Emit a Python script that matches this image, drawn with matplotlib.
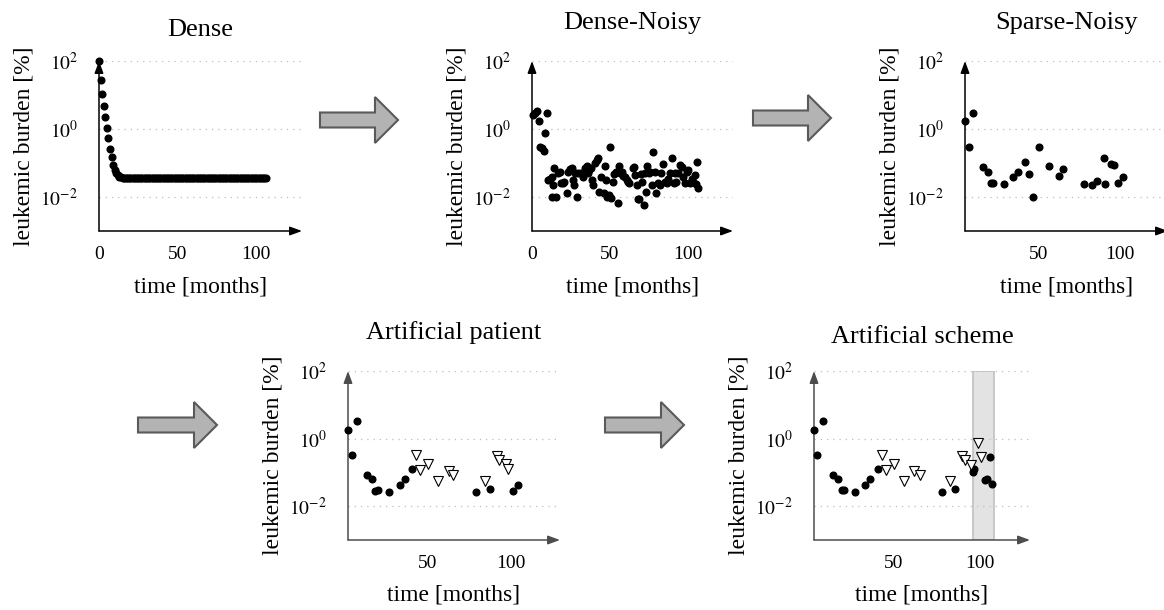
import matplotlib
matplotlib.use('Agg')
import matplotlib.pyplot as plt
from matplotlib.patches import Polygon
from matplotlib.ticker import NullLocator

plt.rcParams['font.family'] = 'Liberation Serif'
plt.rcParams['mathtext.fontset'] = 'stix'

W, H = 1164, 610

# ── data ────────────────────────────────────────────────
dense_t = list(range(107))
dense_v = [100, 27.6, 10.7, 4.9, 2.3, 1.05, 0.53, 0.26, 0.15, 0.087,
           0.062, 0.050, 0.043, 0.040, 0.038, 0.037,
           0.036, 0.036, 0.036, 0.036, 0.036, 0.036, 0.036, 0.036, 0.036, 0.036,
           0.036, 0.036, 0.036, 0.036, 0.036, 0.036, 0.036, 0.036, 0.036, 0.036,
           0.036, 0.036, 0.036, 0.036, 0.036, 0.036, 0.036, 0.036, 0.036, 0.036,
           0.036, 0.036, 0.036, 0.036, 0.036, 0.036, 0.036, 0.036, 0.036, 0.036,
           0.036, 0.036, 0.036, 0.036, 0.036, 0.036, 0.036, 0.036, 0.036, 0.036,
           0.036, 0.036, 0.036, 0.036, 0.036, 0.036, 0.036, 0.036, 0.036, 0.036,
           0.036, 0.036, 0.036, 0.036, 0.036, 0.036, 0.036, 0.036, 0.036, 0.036,
           0.036, 0.036, 0.036, 0.036, 0.036, 0.036, 0.036, 0.036, 0.036, 0.036,
           0.036, 0.036, 0.036, 0.036, 0.036, 0.036, 0.036, 0.036, 0.036, 0.036,
           0.036]

noisy_t = [0.5, 2.2, 3.4, 4.5, 5.2, 6.4, 7.5, 8.1, 9.4,
           10.1, 11.6, 12.6, 13.1, 13.7, 14.3, 15.2, 16.9, 18.0, 18.4,
           19.7, 20.8, 22.2, 23.3, 24.4, 25.7, 26.1, 27.0, 27.6, 28.7,
           29.7, 31.2, 32.9, 34.0, 35.1, 36.1, 36.8, 37.8, 38.3, 39.3,
           40.4, 41.5, 42.5, 43.2, 44.0, 46.4, 46.8, 47.5, 48.3, 49.6,
           50.0, 50.7, 51.7, 52.6, 53.7, 54.9, 55.8, 56.4, 57.5, 58.6,
           59.6, 60.7, 61.4, 62.4, 64.6, 65.4, 66.1, 67.1, 68.0, 68.8,
           69.7, 70.8, 71.8, 72.5, 73.1, 74.0, 74.8, 75.7, 76.7, 77.8,
           78.9, 79.5, 81.0, 82.1, 83.1, 84.2, 85.3, 86.4, 87.4, 88.5,
           89.6, 91.0, 91.7, 92.3, 93.8, 94.9, 96.0, 97.0, 98.1, 99.2,
           100.2, 101.3, 102.4, 103.4, 104.5, 105.2, 105.6, 106.7]
noisy_v = [2.6, 2.9, 3.4, 1.7, 0.30, 0.27, 0.23, 0.78, 2.9,
           0.032, 0.035, 0.0102, 0.040, 0.023, 0.070, 0.0102, 0.052, 0.056, 0.026,
           0.026, 0.028, 0.013, 0.056, 0.065, 0.070, 0.032, 0.023, 0.050, 0.0102,
           0.050, 0.050, 0.040, 0.070, 0.083, 0.050, 0.062, 0.070, 0.032, 0.023,
           0.098, 0.122, 0.137, 0.014, 0.040, 0.013, 0.082, 0.032, 0.0102, 0.0115,
           0.29, 0.0091, 0.028, 0.047, 0.054, 0.0065, 0.083, 0.050, 0.056, 0.041,
           0.038, 0.032, 0.028, 0.025, 0.070, 0.078, 0.044, 0.023, 0.0087, 0.0085,
           0.046, 0.028, 0.0059, 0.050, 0.014, 0.083, 0.050, 0.053, 0.023, 0.215,
           0.056, 0.013, 0.026, 0.023, 0.050, 0.094, 0.028, 0.026, 0.035, 0.050,
           0.137, 0.025, 0.050, 0.028, 0.050, 0.087, 0.078, 0.040, 0.025, 0.056,
           0.062, 0.025, 0.035, 0.028, 0.044, 0.024, 0.109, 0.018]

sparse_t = [5.5, 7.7, 10.6, 16.3, 19.3, 21.1, 22.8, 29.3, 35.0, 38.0, 42.1, 44.7, 46.7,
            50.6, 56.7, 62.4, 65.0, 78.0, 82.7, 85.8, 89.8, 90.9, 94.3, 95.9, 98.6, 101.6]
sparse_v = [1.72, 0.30, 2.89, 0.075, 0.056, 0.026, 0.026, 0.024, 0.038, 0.056, 0.109, 0.047, 0.0098,
            0.29, 0.083, 0.042, 0.065, 0.024, 0.022, 0.030, 0.137, 0.024, 0.094, 0.087, 0.025, 0.038]

patient_t = [3.0, 5.2, 8.2, 14.1, 17.5, 19.0, 20.6, 27.6, 33.9, 37.1, 41.1, 79.2, 87.5, 100.8, 104.0]
patient_v = [1.84, 0.32, 3.38, 0.082, 0.062, 0.028, 0.030, 0.026, 0.041, 0.062, 0.122, 0.026, 0.033, 0.028, 0.042]
patient_tri_t = [43.5, 46.0, 50.6, 56.5, 62.9, 65.7, 84.5, 91.5, 92.7, 96.8, 98.0]
patient_tri_v = [0.32, 0.12, 0.18, 0.054, 0.11, 0.082, 0.056, 0.30, 0.226, 0.18, 0.13]

scheme_t = [3.5, 5.4, 8.5, 14.3, 17.6, 19.6, 20.9, 27.3, 33.5, 36.4, 40.9, 78.1, 86.0,
            96.1, 96.7, 103.3, 104.3, 106.2, 107.2]
scheme_v = [1.84, 0.32, 3.38, 0.082, 0.062, 0.030, 0.030, 0.026, 0.042, 0.062, 0.122, 0.026, 0.033,
            0.102, 0.122, 0.059, 0.065, 0.28, 0.044]
scheme_tri_t = [43.4, 45.7, 50.0, 55.8, 61.8, 65.1, 83.1, 89.9, 91.3, 95.2, 99.0, 101.0]
scheme_tri_v = [0.32, 0.12, 0.18, 0.054, 0.11, 0.082, 0.056, 0.30, 0.226, 0.17, 0.74, 0.28]
scheme_window = (96.1, 108.3)

YTICKS = [1e-2, 1e0, 1e2]
YTICKLABELS = [r'$10^{-2}$', r'$10^{0}$', r'$10^{2}$']


def px_axes(fig, left, top, right, bottom):
    return fig.add_axes([left / W, 1 - bottom / H, (right - left) / W, (bottom - top) / H])


def style(ax, title, title_pad, xlim, xticks, w_px, h_px, color):
    ax.set_yscale('log')
    ax.set_ylim(1e-3, 1e2)
    ax.set_xlim(*xlim)
    ax.set_yticks(YTICKS)
    ax.set_yticklabels(YTICKLABELS)
    ax.yaxis.set_minor_locator(NullLocator())
    ax.set_xticks(xticks)
    ax.set_xticklabels([str(t) for t in xticks])
    ax.tick_params(axis='y', length=0, pad=15, labelsize=14)
    ax.tick_params(axis='x', length=0, pad=11, labelsize=14)
    for s in ax.spines.values():
        s.set_visible(False)
    ax.patch.set_visible(False)
    ax.set_axisbelow(True)
    ax.grid(axis='y', color='#bdbdbd', linestyle=(0, (1, 4)), linewidth=0.9)
    ap = dict(arrowstyle='-|>,head_length=0.6,head_width=0.22', color=color, lw=1.1,
              shrinkA=0, shrinkB=0, mutation_scale=12)
    ax.annotate('', xy=(1, 0), xytext=(0, 0), xycoords='axes fraction', arrowprops=ap)
    ax.annotate('', xy=(0, 1), xytext=(0, 0), xycoords='axes fraction', arrowprops=ap)
    ax.set_title(title, fontsize=19, pad=title_pad, y=1.0)
    ax.set_xlabel('time [months]', fontsize=17)
    ax.set_ylabel('leukemic burden [%]', fontsize=17)
    ax.xaxis.set_label_coords(0.5, -45 / h_px)
    ax.yaxis.set_label_coords(-65 / w_px, 0.5)


def dots(ax, t, v):
    ax.plot(t, v, 'o', color='black', ms=4.8, clip_on=False, zorder=4)


def triangles(ax, t, v):
    ax.plot(t, v, 'v', mfc='white', mec='black', mew=0.8, ms=6.5, clip_on=False, zorder=5)


def block_arrow(ov, x0, xh, xt, yc, bh=7.5, hh=23):
    pts = [(x0, yc - bh), (xh, yc - bh), (xh, yc - hh), (xt, yc),
           (xh, yc + hh), (xh, yc + bh), (x0, yc + bh)]
    ov.add_patch(Polygon(pts, closed=True, facecolor='#b3b3b3', edgecolor='#5a5a5a', lw=1.5))


fig = plt.figure(figsize=(W / 100, H / 100), dpi=100)

# top row
ax1 = px_axes(fig, 99, 61, 302, 231)
style(ax1, 'Dense', 18, (0, 129), [0, 50, 100], 203, 170, 'black')
dots(ax1, dense_t, dense_v)

ax2 = px_axes(fig, 532, 61, 733, 231)
style(ax2, 'Dense-Noisy', 23, (0, 129), [0, 50, 100], 201, 170, 'black')
dots(ax2, noisy_t, noisy_v)

ax3 = px_axes(fig, 965, 61, 1168, 231)
style(ax3, 'Sparse-Noisy', 23, (5.5, 129), [50, 100], 203, 170, 'black')
dots(ax3, sparse_t, sparse_v)

# bottom row
ax4 = px_axes(fig, 348, 371, 560, 540)
style(ax4, 'Artificial patient', 23, (3.0, 129), [50, 100], 212, 169, '#4d4d4d')
dots(ax4, patient_t, patient_v)
triangles(ax4, patient_tri_t, patient_tri_v)

ax5 = px_axes(fig, 814, 371, 1030, 540)
style(ax5, 'Artificial scheme', 20, (3.5, 129.5), [50, 100], 216, 169, '#4d4d4d')
ax5.axvspan(*scheme_window, facecolor='#e3e3e3', edgecolor='#c4c4c4', lw=1.3, zorder=0.3)
dots(ax5, scheme_t, scheme_v)
triangles(ax5, scheme_tri_t, scheme_tri_v)

# big gray arrows between panels
ov = fig.add_axes([0, 0, 1, 1])
ov.set_xlim(0, W)
ov.set_ylim(H, 0)
ov.axis('off')
block_arrow(ov, 320, 375, 398, 120)
block_arrow(ov, 753, 808, 831, 118)
block_arrow(ov, 138, 194, 217, 425)
block_arrow(ov, 605, 661, 684, 425)

fig.savefig('out.png', dpi=100)
